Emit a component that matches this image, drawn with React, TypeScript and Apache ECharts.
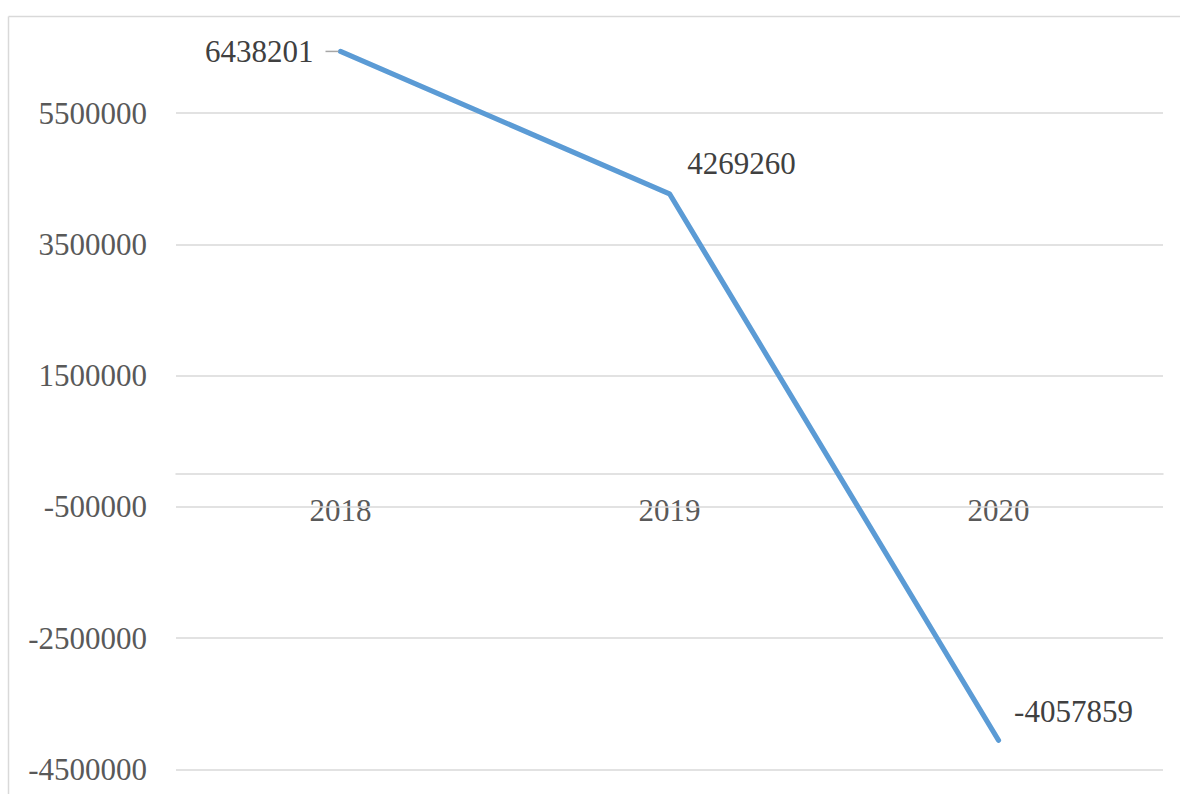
import React, { useEffect, useRef } from "react";
import * as echarts from "echarts";

const categories = ["2018", "2019", "2020"];
const values = [6438201, 4269260, -4057859];
const yTickLabels = [-4500000, -2500000, -500000, 1500000, 3500000, 5500000];

const FONT = "'Liberation Serif', 'Times New Roman', serif";

export default function App() {
  const ref = useRef<HTMLDivElement>(null);

  useEffect(() => {
    if (!ref.current) return;
    const chart = echarts.init(ref.current, undefined, { renderer: "svg" });
    const labelOffsets: Array<any> = [
      {
        position: "left",
        distance: 1,
        formatter: (p: any) => `{t|${p.value}}{g|}{b|}`,
        rich: {
          t: { fontFamily: FONT, fontSize: 31, color: "#404040" },
          g: { width: 12, height: 2 },
          b: { width: 13, height: 1.5, backgroundColor: "#a6a6a6" },
        },
      },
      { position: "inside", offset: [72, -30] },
      { position: "inside", offset: [75, -29] },
    ];
    chart.setOption({
      animation: false,
      backgroundColor: "#ffffff",
      grid: {
        left: 176,
        right: 17,
        top: 47.37,
        bottom: 24.7,
        containLabel: false,
        outerBoundsMode: "none",
      },
      graphic: [
        {
          type: "line",
          shape: { x1: 8.5, y1: 16.5, x2: 1180, y2: 16.5 },
          style: { stroke: "#d9d9d9", lineWidth: 1.5 },
        },
        {
          type: "line",
          shape: { x1: 8.5, y1: 16.5, x2: 8.5, y2: 794 },
          style: { stroke: "#d9d9d9", lineWidth: 1.5 },
        },
      ],
      xAxis: {
        type: "category",
        data: categories,
        boundaryGap: true,
        position: "bottom",
        offset: -295.9,
        axisLine: { show: true, onZero: false, lineStyle: { color: "#d9d9d9", width: 1.5 } },
        axisTick: { show: false },
        splitLine: { show: false },
        axisLabel: {
          color: "#595959",
          fontFamily: FONT,
          fontSize: 31,
          margin: 22,
        },
      },
      yAxis: {
        type: "value",
        min: -4500000,
        max: 6500000,
        interval: 500000,
        axisLine: { show: false },
        axisTick: { show: false },
        splitLine: { show: false },
        axisLabel: {
          color: "#595959",
          fontFamily: FONT,
          fontSize: 31,
          margin: 29,
          formatter: (v: number) => (yTickLabels.includes(v) ? String(v) : ""),
        },
      },
      series: [
        {
          type: "line",
          data: values.map((v, i) => ({
            value: v,
            label: labelOffsets[i],
          })),
          symbol: "circle",
          symbolSize: 2,
          itemStyle: { color: "#5b9bd5" },
          lineStyle: { color: "#5b9bd5", width: 5.2, cap: "round", join: "round" },
          z: 3,
          label: {
            show: true,
            color: "#404040",
            fontFamily: FONT,
            fontSize: 31,
          },
          markLine: {
            silent: true,
            symbol: ["none", "none"],
            z: 1,
            label: { show: false },
            lineStyle: { color: "#d9d9d9", width: 1.5, type: "solid" },
            data: yTickLabels.map((t) => ({ yAxis: t })),
          },
        },
      ],
    });
    return () => chart.dispose();
  }, []);

  return (
    <div
      ref={ref}
      style={{ position: "fixed", left: 0, top: 0, width: 1180, height: 794, background: "#fff" }}
    />
  );
}
